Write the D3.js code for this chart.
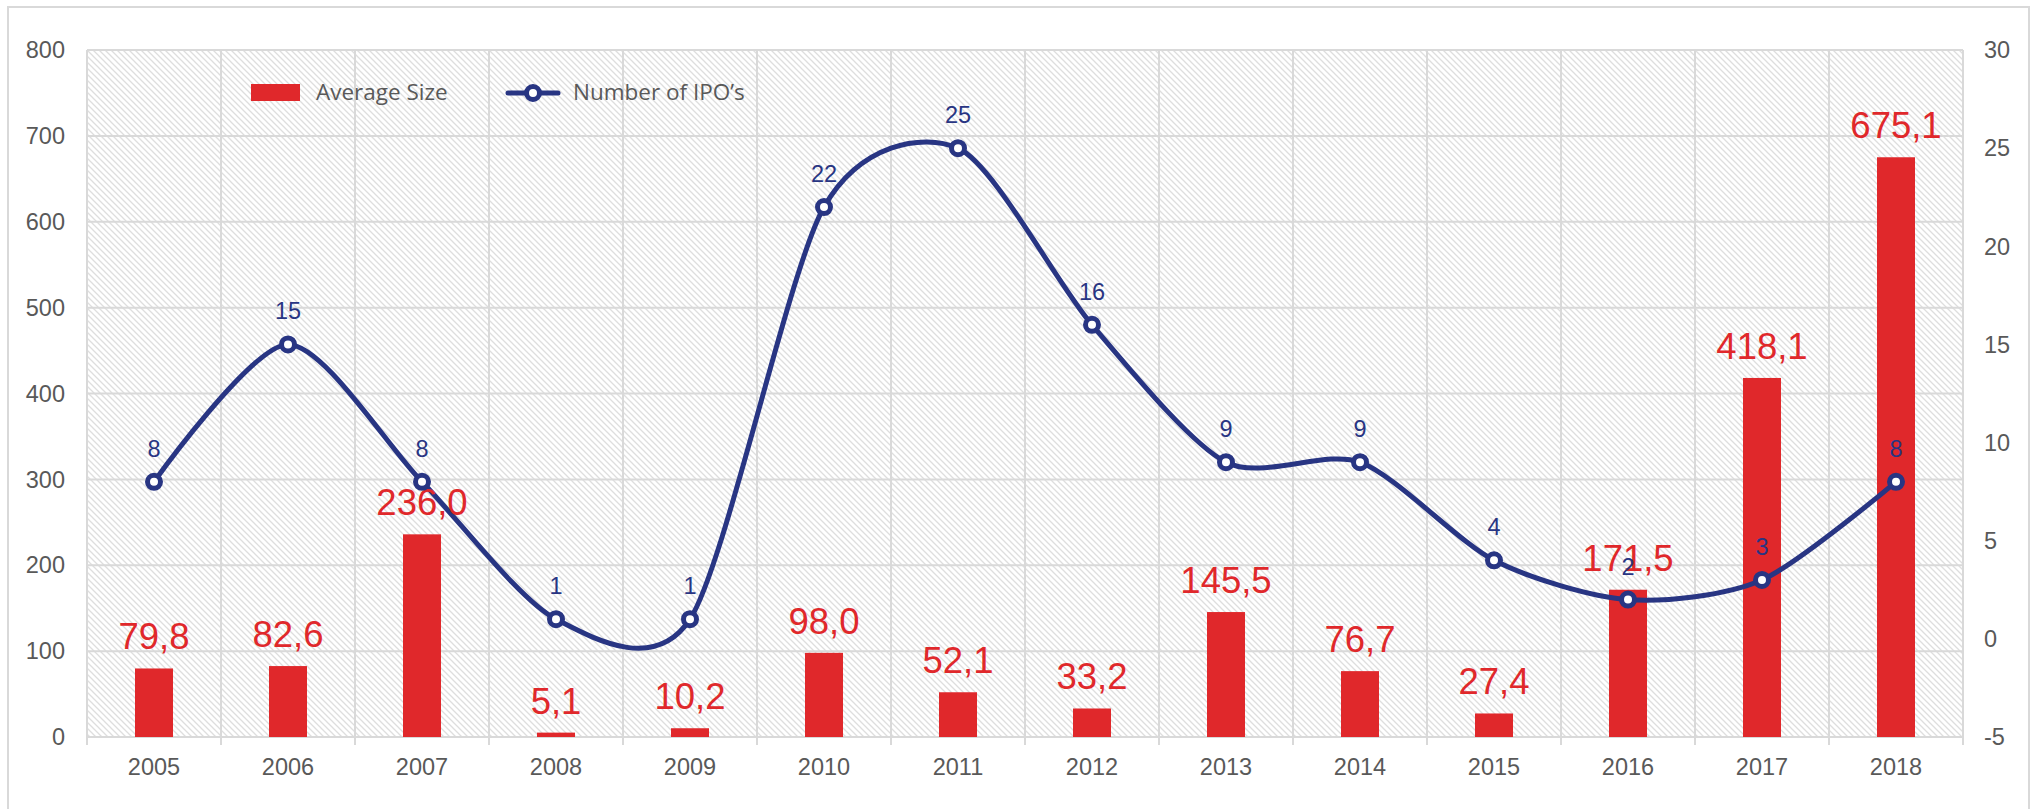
<!DOCTYPE html>
<html>
<head>
<meta charset="utf-8">
<script src="https://cdn.jsdelivr.net/npm/d3@7"></script>
<style>
  body { margin: 0; background: #fff; }
  svg text { font-family: "Liberation Sans", Arial, sans-serif; }
</style>
</head>
<body>
<div id="chart"></div>
<script>
// data
var years = ["2005", "2006", "2007", "2008", "2009", "2010", "2011", "2012", "2013", "2014", "2015", "2016", "2017", "2018"];
var avgSize = [79.8, 82.6, 236.0, 5.1, 10.2, 98.0, 52.1, 33.2, 145.5, 76.7, 27.4, 171.5, 418.1, 675.1];
var ipoCount = [8, 15, 8, 1, 1, 22, 25, 16, 9, 9, 4, 2, 3, 8];
var leftTicks = [0, 100, 200, 300, 400, 500, 600, 700, 800];
var rightTicks = [-5, 0, 5, 10, 15, 20, 25, 30];

var width = 2035, height = 809;
var margin = {top: 50, right: 72, bottom: 72, left: 87};
var red = "#e0282b", navy = "#283583", grey = "#595959", gridC = "#d9d9d9";
var fmt = function(v) { return v.toFixed(1).replace(".", ","); };

var svg = d3.select("#chart").append("svg")
  .attr("width", width).attr("height", height);

// hatch fill
var defs = svg.append("defs");
var pat = defs.append("pattern").attr("id", "hatch")
  .attr("patternUnits", "userSpaceOnUse").attr("width", 6).attr("height", 6);
pat.append("rect").attr("width", 6).attr("height", 6).attr("fill", "#fff");
pat.append("path").attr("d", "M0,0L6,6M-1,5L1,7M5,-1L7,1")
  .attr("stroke", "#dedede").attr("stroke-width", 1.3);

// outer frame
svg.append("rect").attr("x", 8).attr("y", 7).attr("width", 2021).attr("height", 820)
  .attr("fill", "none").attr("stroke", gridC).attr("stroke-width", 2);

var iw = width - margin.left - margin.right;
var ih = height - margin.top - margin.bottom;
var g = svg.append("g").attr("transform", "translate(" + margin.left + "," + margin.top + ")");

var x = d3.scaleBand().domain(years).range([0, iw]);
var yL = d3.scaleLinear().domain([0, 800]).range([ih, 0]);
var yR = d3.scaleLinear().domain([-5, 30]).range([ih, 0]);

g.append("rect").attr("width", iw).attr("height", ih).attr("fill", "url(#hatch)");

// gridlines
g.selectAll(".hgrid").data(leftTicks).enter().append("line")
  .attr("x1", 0).attr("x2", iw)
  .attr("y1", function(d) { return yL(d); }).attr("y2", function(d) { return yL(d); })
  .attr("stroke", gridC).attr("stroke-width", 2);
var bounds = years.map(function(d) { return x(d); }).concat([iw]);
g.selectAll(".vgrid").data(bounds).enter().append("line")
  .attr("x1", function(d) { return d; }).attr("x2", function(d) { return d; })
  .attr("y1", 0).attr("y2", ih + 8)
  .attr("stroke", gridC).attr("stroke-width", 2);

// axes labels
g.selectAll(".ltick").data(leftTicks).enter().append("text")
  .attr("x", -22).attr("y", function(d) { return yL(d); })
  .attr("dy", "0.35em").attr("text-anchor", "end")
  .attr("font-size", 23.5).attr("fill", grey).text(function(d) { return d; });
g.selectAll(".rtick").data(rightTicks).enter().append("text")
  .attr("x", iw + 21).attr("y", function(d) { return yR(d); })
  .attr("dy", "0.35em").attr("text-anchor", "start")
  .attr("font-size", 23.5).attr("fill", grey).text(function(d) { return d; });
g.selectAll(".xtick").data(years).enter().append("text")
  .attr("x", function(d) { return x(d) + x.bandwidth() / 2; }).attr("y", ih + 38)
  .attr("text-anchor", "middle").attr("font-size", 23.5).attr("fill", grey)
  .text(function(d) { return d; });

// bars
var barW = 38;
g.selectAll(".bar").data(avgSize).enter().append("rect")
  .attr("x", function(d, i) { return x(years[i]) + x.bandwidth() / 2 - barW / 2; })
  .attr("y", function(d) { return yL(d); })
  .attr("width", barW)
  .attr("height", function(d) { return ih - yL(d); })
  .attr("fill", red);

// line
var line = d3.line()
  .x(function(d, i) { return x(years[i]) + x.bandwidth() / 2; })
  .y(function(d) { return yR(d); })
  .curve(d3.curveCardinal.tension(0.2));
g.append("path").datum(ipoCount).attr("d", line)
  .attr("fill", "none").attr("stroke", navy).attr("stroke-width", 5);

// bar labels
g.selectAll(".blabel").data(avgSize).enter().append("text")
  .attr("x", function(d, i) { return x(years[i]) + x.bandwidth() / 2; })
  .attr("y", function(d) { return yL(d) - 19; })
  .attr("text-anchor", "middle").attr("font-size", 36.5).attr("fill", red)
  .text(fmt);

g.selectAll(".dot").data(ipoCount).enter().append("circle")
  .attr("cx", function(d, i) { return x(years[i]) + x.bandwidth() / 2; })
  .attr("cy", function(d) { return yR(d); })
  .attr("r", 6.5).attr("fill", "#fff").attr("stroke", navy).attr("stroke-width", 5);

g.selectAll(".llabel").data(ipoCount).enter().append("text")
  .attr("x", function(d, i) { return x(years[i]) + x.bandwidth() / 2; })
  .attr("y", function(d) { return yR(d) - 25; })
  .attr("text-anchor", "middle").attr("font-size", 23.5).attr("fill", navy)
  .text(function(d) { return d; });

// legend
var leg = svg.append("g");
leg.append("rect").attr("x", 251).attr("y", 84).attr("width", 49).attr("height", 17).attr("fill", red);
leg.append("text").attr("x", 316).attr("y", 100).attr("font-size", 22.5).attr("fill", grey)
  .style("font-family", "'Open Sans', sans-serif").text("Average Size");
leg.append("line").attr("x1", 508).attr("x2", 558).attr("y1", 93).attr("y2", 93)
  .attr("stroke", navy).attr("stroke-width", 5).attr("stroke-linecap", "round");
leg.append("circle").attr("cx", 533).attr("cy", 93).attr("r", 6.5)
  .attr("fill", "#fff").attr("stroke", navy).attr("stroke-width", 5);
leg.append("text").attr("x", 573).attr("y", 100).attr("font-size", 22.5).attr("fill", grey)
  .style("font-family", "'Open Sans', sans-serif").text("Number of IPO’s");
</script>
</body>
</html>
